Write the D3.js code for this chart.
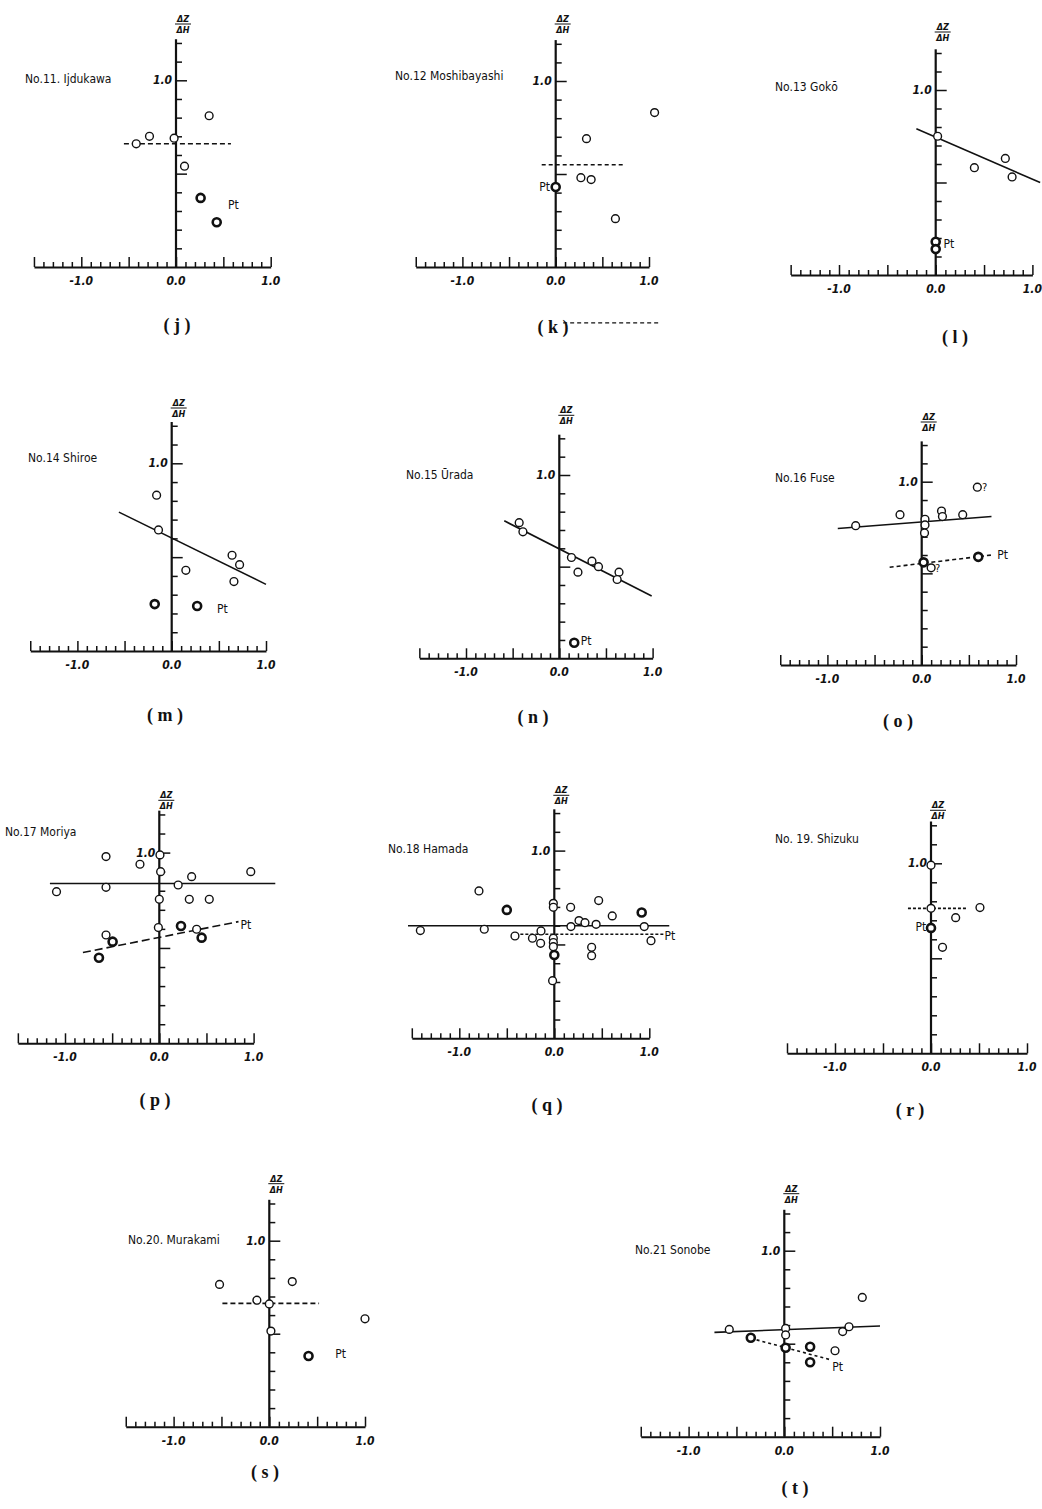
<!DOCTYPE html>
<html>
<head>
<meta charset="utf-8">
<script src="https://cdn.jsdelivr.net/npm/d3@7"></script>
<style>
  body { margin: 0; background: #fff; }
  svg text { fill: #111; }
</style>
</head>
<body>
<svg id="chart" width="1042" height="1509"></svg>
<script>
// ---- data: [dZ/dH ratio x, ratio y] ----
const xTicks = [-1.0, 0.0, 1.0];
const xTickLabels = ["-1.0", "0.0", "1.0"];
const yTickLabel = "1.0";

// (j) No.11 Ijdukawa
const jOpen = [[-0.42, 0.66], [-0.28, 0.70], [-0.02, 0.69], [0.09, 0.54], [0.35, 0.81]];
const jPt = [[0.26, 0.37], [0.43, 0.24]];
const jFit = [[-0.55, 0.66], [0.58, 0.66]];

// (k) No.12 Moshibayashi
const kOpen = [[0.33, 0.69], [0.27, 0.48], [0.38, 0.47], [0.64, 0.26], [1.06, 0.83]];
const kPt = [[0.0, 0.43]];
const kFit = [[-0.15, 0.55], [0.74, 0.55]];
const kStray = [[0.08, -0.30], [1.12, -0.30]];

// (l) No.13 Gokō
const lOpen = [[0.02, 0.75], [0.40, 0.58], [0.72, 0.63], [0.79, 0.53]];
const lPt = [[0.0, 0.18], [0.0, 0.14]];
const lFit = [[-0.20, 0.79], [1.08, 0.50]];

// (m) No.14 Shiroe
const mOpen = [[-0.16, 0.83], [-0.14, 0.645], [0.15, 0.43], [0.64, 0.51], [0.72, 0.46], [0.66, 0.37]];
const mPt = [[-0.18, 0.25], [0.27, 0.24]];
const mFit = [[-0.56, 0.74], [1.0, 0.355]];

// (n) No.15 Ūrada
const nOpen = [[-0.43, 0.74], [-0.39, 0.69], [0.13, 0.55], [0.20, 0.47], [0.35, 0.53], [0.42, 0.50], [0.64, 0.47], [0.62, 0.43]];
const nPt = [[0.16, 0.085]];
const nFit = [[-0.59, 0.75], [0.99, 0.34]];

// (o) No.16 Fuse
const oOpen = [[-0.70, 0.76], [-0.23, 0.82], [0.035, 0.795], [0.035, 0.764], [0.03, 0.72], [0.21, 0.84], [0.22, 0.81], [0.435, 0.82], [0.59, 0.97], [0.10, 0.53]];
const oPt = [[0.02, 0.56], [0.60, 0.59]];
const oFit = [[-0.89, 0.745], [0.74, 0.81]];
const oPtFit = [[-0.34, 0.533], [0.74, 0.60]];

// (p) No.17 Moriya
const pOpen = [[-1.09, 0.795], [-0.565, 0.979], [-0.565, 0.818], [-0.205, 0.939], [0.007, 0.988], [0.014, 0.90], [0.20, 0.83], [0.343, 0.874], [0.97, 0.90], [0.0, 0.755], [0.318, 0.755], [0.53, 0.755], [-0.01, 0.607], [-0.565, 0.568], [0.396, 0.598]];
const pPt = [[-0.495, 0.533], [-0.64, 0.449], [0.23, 0.615], [0.449, 0.554]];
const pFit = [[-1.16, 0.838], [1.23, 0.838]];
const pPtFit = [[-0.81, 0.476], [0.84, 0.638]];

// (q) No.18 Hamada
const qOpen = [[-1.41, 0.574], [-0.793, 0.785], [-0.737, 0.581], [-0.414, 0.545], [-0.23, 0.533], [-0.144, 0.506], [-0.14, 0.572], [-0.01, 0.719], [-0.01, 0.698], [-0.01, 0.533], [-0.01, 0.51], [-0.01, 0.488], [-0.018, 0.307], [0.172, 0.698], [0.175, 0.595], [0.26, 0.627], [0.323, 0.616], [0.44, 0.607], [0.467, 0.734], [0.61, 0.652], [0.947, 0.595], [1.018, 0.52], [0.393, 0.485], [0.393, 0.44]];
const qPt = [[-0.50, 0.684], [0.0, 0.444], [0.92, 0.67]];
const qFit = [[-1.54, 0.60], [1.21, 0.60]];
const qPtFit = [[-0.41, 0.554], [1.15, 0.554]];

// (r) No.19 Shizuku
const rOpen = [[0.0, 0.99], [0.0, 0.763], [0.257, 0.714], [0.51, 0.767], [0.12, 0.558]];
const rPt = [[0.0, 0.66]];
const rFit = [[-0.24, 0.763], [0.37, 0.763]];

// (s) No.20 Murakami
const sOpen = [[-0.52, 0.765], [0.24, 0.78], [-0.13, 0.68], [0.0, 0.66], [0.017, 0.514], [1.0, 0.58]];
const sPt = [[0.41, 0.38]];
const sFit = [[-0.49, 0.663], [0.52, 0.663]];

// (t) No.21 Sonobe
const tOpen = [[-0.575, 0.577], [0.014, 0.582], [0.014, 0.547], [0.61, 0.565], [0.676, 0.591], [0.53, 0.462], [0.815, 0.749]];
const tPt = [[-0.35, 0.532], [0.014, 0.478], [0.27, 0.484], [0.27, 0.40]];
const tFit = [[-0.73, 0.561], [1.0, 0.595]];
const tPtFit = [[-0.35, 0.529], [0.495, 0.412]];

// ---- panel layout (pixel placement of each little graph) ----
const panels = [
  { id: "j", name: "No.11. Ijdukawa", x0: 176, base: 267, xu: 94.7, yu: 186.7, nameAt: [25, 83], letterAt: [177, 331],
    open: jOpen, pt: jPt, fit: jFit, fitDash: "5,3", ptLabel: [0.55, 0.31], notes: [] },
  { id: "k", name: "No.12 Moshibayashi", x0: 555.7, base: 267, xu: 93.3, yu: 186, nameAt: [395, 80], letterAt: [553, 333],
    open: kOpen, pt: kPt, fit: kFit, fitDash: "4,3", ptLabel: [-0.06, 0.41], ptAnchor: "end", stray: kStray, notes: [] },
  { id: "l", name: "No.13 Gokō", x0: 935.7, base: 275, xu: 96.7, yu: 185, nameAt: [775, 91], letterAt: [955, 343],
    open: lOpen, pt: lPt, fit: lFit, fitDash: null, ptLabel: [0.08, 0.145], notes: [] },
  { id: "m", name: "No.14 Shiroe", x0: 171.7, base: 651, xu: 94.3, yu: 187.7, nameAt: [28, 462], letterAt: [165, 721],
    open: mOpen, pt: mPt, fit: mFit, fitDash: null, ptLabel: [0.48, 0.2], notes: [] },
  { id: "n", name: "No.15 Ūrada", x0: 559.3, base: 658.3, xu: 93.3, yu: 183.3, nameAt: [406, 479], letterAt: [533, 723],
    open: nOpen, pt: nPt, fit: nFit, fitDash: null, ptLabel: [0.23, 0.07], notes: [] },
  { id: "o", name: "No.16 Fuse", x0: 921.7, base: 665, xu: 94.3, yu: 183.3, nameAt: [775, 482], letterAt: [898, 727],
    open: oOpen, pt: oPt, fit: oFit, fitDash: null, ptFit: oPtFit, ptFitDash: "4,3", ptLabel: [0.8, 0.58],
    notes: [["?", 0.64, 0.95], ["?", 0.14, 0.505]] },
  { id: "p", name: "No.17 Moriya", x0: 159.3, base: 1043.3, xu: 94.3, yu: 190.7, nameAt: [5, 836], letterAt: [155, 1106],
    open: pOpen, pt: pPt, fit: pFit, fitDash: null, ptFit: pPtFit, ptFitDash: "8,4", ptLabel: [0.86, 0.6], notes: [] },
  { id: "q", name: "No.18 Hamada", x0: 554.3, base: 1038.3, xu: 95, yu: 187.7, nameAt: [388, 853], letterAt: [547, 1111],
    open: qOpen, pt: qPt, fit: qFit, fitDash: null, ptFit: qPtFit, ptFitDash: "3,2", ptLabel: [1.16, 0.525], notes: [] },
  { id: "r", name: "No. 19. Shizuku", x0: 931, base: 1053.3, xu: 96, yu: 190, nameAt: [775, 843], letterAt: [910, 1116],
    open: rOpen, pt: rPt, fit: rFit, fitDash: "3,2", ptLabel: [-0.05, 0.645], ptAnchor: "end", notes: [] },
  { id: "s", name: "No.20. Murakami", x0: 269.3, base: 1426.7, xu: 95.7, yu: 186, nameAt: [128, 1244], letterAt: [265, 1478],
    open: sOpen, pt: sPt, fit: sFit, fitDash: "5,3", ptLabel: [0.69, 0.37], notes: [] },
  { id: "t", name: "No.21 Sonobe", x0: 784.3, base: 1436.7, xu: 95.7, yu: 186, nameAt: [635, 1254], letterAt: [795, 1494],
    open: tOpen, pt: tPt, fit: tFit, fitDash: null, ptFit: tPtFit, ptFitDash: "3,3", ptLabel: [0.5, 0.355], notes: [] },
];

const hand = "'DejaVu Sans Condensed', 'Liberation Sans Narrow', sans-serif";
const svg = d3.select("#chart");

panels.forEach(drawPanel);

function drawPanel(p) {
  let x = d3.scaleLinear().domain([-1.5, 1.0]).range([p.x0 - 1.5 * p.xu, p.x0 + p.xu]);
  let y = d3.scaleLinear().domain([0, 1.2]).range([p.base, p.base - 1.2 * p.yu]);
  let g = svg.append("g").attr("class", "panel-" + p.id);

  // x axis: minor ticks every 0.1, long ones every 0.5
  let xAxis = d3.axisTop(x)
    .tickValues(d3.range(-15, 11).map((d) => d / 10))
    .tickSizeOuter(0)
    .tickFormat("");
  let gx = g.append("g").attr("transform", `translate(0,${p.base})`).call(xAxis);
  gx.select(".domain").attr("stroke", "#111").attr("stroke-width", 2);
  gx.selectAll(".tick line")
    .attr("stroke", "#111")
    .attr("stroke-width", 1.5)
    .attr("y2", (d) => (Math.abs(Math.round(d * 10)) % 5 === 0 ? -10 : -5));

  g.selectAll(".xlab")
    .data(xTicks)
    .enter()
    .append("text")
    .attr("x", (d) => x(d))
    .attr("y", p.base + 18)
    .attr("text-anchor", "middle")
    .style("font", `italic 600 12px ${hand}`)
    .text((d, i) => xTickLabels[i]);

  // y axis: ticks every 0.1 on the right
  let yAxis = d3.axisRight(y)
    .tickValues(d3.range(1, 13).map((d) => d / 10))
    .tickSizeOuter(0)
    .tickFormat("");
  let gy = g.append("g").attr("transform", `translate(${p.x0},0)`).call(yAxis);
  gy.select(".domain").attr("stroke", "#111").attr("stroke-width", 2.2)
    .attr("d", `M0,${y(0)}V${y(1.22)}`);
  gy.selectAll(".tick line")
    .attr("stroke", "#111")
    .attr("stroke-width", 1.5)
    .attr("x2", (d) => (Math.round(d * 10) === 10 || Math.round(d * 10) === 5 ? 11 : 6));

  g.append("text")
    .attr("x", p.x0 - 4)
    .attr("y", y(1.0) + 4)
    .attr("text-anchor", "end")
    .style("font", `italic 600 12px ${hand}`)
    .text(yTickLabel);

  // axis title  ΔZ / ΔH
  let tx = p.x0 + 7;
  let ty = p.base - 245;
  g.append("text").attr("x", tx).attr("y", ty).attr("text-anchor", "middle")
    .style("font", `italic bold 9px ${hand}`).text("ΔZ");
  g.append("line").attr("x1", tx - 8).attr("x2", tx + 8).attr("y1", ty + 2).attr("y2", ty + 2)
    .attr("stroke", "#111").attr("stroke-width", 1);
  g.append("text").attr("x", tx).attr("y", ty + 11).attr("text-anchor", "middle")
    .style("font", `italic bold 9px ${hand}`).text("ΔH");

  // station name and panel letter
  g.append("text").attr("x", p.nameAt[0]).attr("y", p.nameAt[1])
    .style("font", `12px ${hand}`).text(p.name);
  g.append("text").attr("x", p.letterAt[0]).attr("y", p.letterAt[1])
    .attr("text-anchor", "middle")
    .style("font", "bold 18px 'Liberation Serif', serif")
    .text(`( ${p.id} )`);

  // fitted lines
  let line = d3.line().x((d) => x(d[0])).y((d) => y(d[1]));
  g.append("path").datum(p.fit).attr("d", line)
    .attr("fill", "none").attr("stroke", "#111").attr("stroke-width", 1.6)
    .attr("stroke-dasharray", p.fitDash);
  if (p.ptFit) {
    g.append("path").datum(p.ptFit).attr("d", line)
      .attr("fill", "none").attr("stroke", "#111").attr("stroke-width", 1.6)
      .attr("stroke-dasharray", p.ptFitDash);
  }
  if (p.stray) {
    g.append("path").datum(p.stray).attr("d", line)
      .attr("fill", "none").attr("stroke", "#111").attr("stroke-width", 1.2)
      .attr("stroke-dasharray", "4,3");
  }

  // open circles
  g.selectAll(".open")
    .data(p.open)
    .enter()
    .append("circle")
    .attr("cx", (d) => x(d[0]))
    .attr("cy", (d) => y(d[1]))
    .attr("r", 3.9)
    .attr("fill", "#fff")
    .attr("stroke", "#111")
    .attr("stroke-width", 1.4);

  // Pt (bold) circles
  g.selectAll(".pt")
    .data(p.pt)
    .enter()
    .append("circle")
    .attr("cx", (d) => x(d[0]))
    .attr("cy", (d) => y(d[1]))
    .attr("r", 4)
    .attr("fill", "#fff")
    .attr("stroke", "#111")
    .attr("stroke-width", 2.6);

  g.append("text")
    .attr("x", x(p.ptLabel[0]))
    .attr("y", y(p.ptLabel[1]))
    .attr("text-anchor", p.ptAnchor || "start")
    .style("font", `12px ${hand}`)
    .text("Pt");

  p.notes.forEach((n) => {
    g.append("text").attr("x", x(n[1])).attr("y", y(n[2]))
      .style("font", `11px ${hand}`).text(n[0]);
  });
}
</script>
</body>
</html>
